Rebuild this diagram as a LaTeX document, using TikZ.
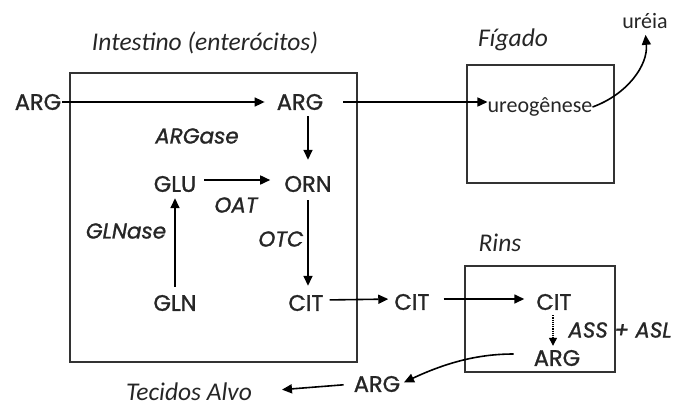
\documentclass[tikz,border=0pt]{standalone}
\usepackage{fontspec}
\usetikzlibrary{arrows.meta}
\newfontfamily\geofont{Poppins}[FakeBold=1.2]
\newfontfamily\calfont{Carlito}
\begin{document}
\begin{tikzpicture}[x=1pt,y=-1pt,
  lab/.style={font=\geofont\fontsize{22.5}{22.5}\selectfont, inner sep=0pt, text=black!85},
  enz/.style={font=\geofont\itshape\fontsize{21.5}{21.5}\selectfont, inner sep=0pt, text=black!85},
  ttl/.style={font=\calfont\itshape\fontsize{25.5}{25.5}\selectfont, inner sep=0pt, text=black!85},
  txt/.style={font=\calfont\fontsize{22}{22}\selectfont, inner sep=0pt, text=black!85},
  organ/.style={draw=black!80, line width=1.4pt, inner sep=0pt},
  arr/.style={line width=1.6pt, -{Triangle[length=10pt,width=9pt]}},
]
\useasboundingbox (0,0) rectangle (675,408);
% boxes
\node[organ, minimum width=287pt, minimum height=289pt] (intbox) at (213.5,217.5) {};
\node[organ, minimum width=147pt, minimum height=118pt] (figbox) at (540.5,124) {};
\node[organ, minimum width=150pt, minimum height=106pt] (rinbox) at (540,319) {};
% titles
\node[ttl] (tint) at (205,43) {Intestino (enterócitos)};
\node[ttl] (tfig) at (513,40) {Fígado};
\node[ttl] (trin) at (500,243) {Rins};
\node[ttl] (talvo) at (189,392) {Tecidos Alvo};
% metabolites
\node[lab] (argL) at (38,102) {ARG};
\node[lab] (argI) at (300,102) {ARG};
\node[lab] (glu) at (175,184) {GLU};
\node[lab] (orn) at (308,184) {ORN};
\node[lab] (gln) at (175,303) {GLN};
\node[lab] (citI) at (306,303) {CIT};
\node[lab] (citM) at (412,302) {CIT};
\node[lab] (citR) at (554,302) {CIT};
\node[lab] (argR) at (557,358) {ARG};
\node[lab] (argB) at (377,384) {ARG};
\node[txt] (ureo) at (540,107) {ureogênese};
\node[txt] (ureia) at (645,21) {uréia};
% enzymes
\node[enz] (argase) at (197,136) {ARGase};
\node[enz] (oat) at (236,205) {OAT};
\node[enz] (otc) at (281,239) {OTC};
\node[enz] (glnase) at (126,231) {GLNase};
\node[enz] (assasl) at (620,330) {ASS + ASL};
% arrows
\draw[arr, shorten >=12pt, shorten <=1pt] (argL.east) -- (argI.west);
\draw[arr, shorten >=16pt, shorten <=6pt] (argI.south -| orn.north) -- (orn.north);
\draw[arr, shorten <=8pt, shorten >=14pt] ([yshift=4pt]glu.east) -- ([yshift=4pt]orn.west);
\draw[arr, shorten <=8pt, shorten >=6pt] (gln.north) -- (glu.south);
\draw[arr, shorten <=8pt, shorten >=9pt] (orn.south) -- (citI.north -| orn.south);
\draw[arr, shorten <=6pt, shorten >=6pt] ([yshift=3pt]citI.east) -- ([yshift=3pt]citM.west);
\draw[arr, shorten <=14pt, shorten >=12pt] ([yshift=3pt]citM.east) -- ([yshift=3pt]citR.west);
\draw[arr, shorten <=20pt] (argI.east) -- (ureo.west |- argI.east);
\draw[arr, shorten >=6pt] (ureo.east) to[out=20,in=-85] (ureia.south);
\draw[line width=1.2pt, densely dotted, -{Triangle[length=8pt,width=8pt]}, shorten <=5pt, shorten >=4pt] (citR.south -| 553,0) -- (argR.north -| 553,0);
\draw[arr, shorten <=20pt, shorten >=4pt] ([yshift=4pt]argR.west) to[out=180,in=25] (argB.east);
\draw[arr, shorten <=10pt, shorten >=30pt] (argB.west) -- (talvo.east);
\end{tikzpicture}
\end{document}
